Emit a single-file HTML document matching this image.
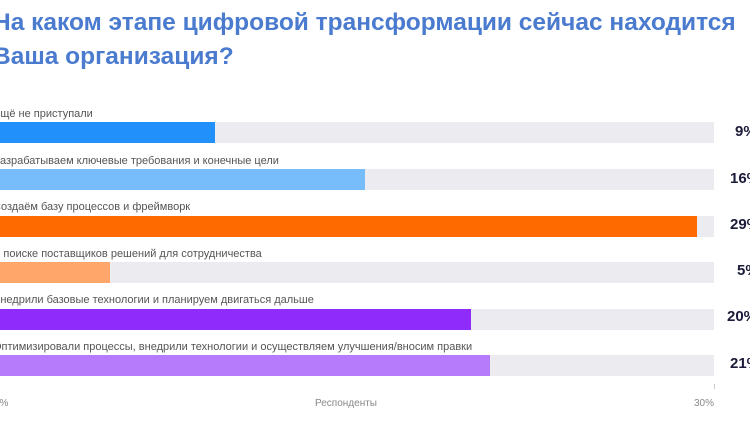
<!DOCTYPE html>
<html><head><meta charset="utf-8"><style>
body{margin:0;width:750px;height:430px;overflow:hidden;background:#fff;font-family:"Liberation Sans","DejaVu Sans",sans-serif;position:relative}
.t{position:absolute;left:-7px;top:6px;color:#4a7bcf;font-weight:bold;font-size:24.5px;line-height:34px;white-space:nowrap}
.l{position:absolute;left:-7px;font-size:11px;color:#555;white-space:nowrap}
.tr{position:absolute;left:0;width:714px;height:21px;background:#ebebf0}
.b{position:absolute;left:0;height:21px}
.p{position:absolute;left:730px;font-weight:bold;font-size:15px;color:#1b1b3a;white-space:nowrap}
.a{position:absolute;top:398px;font-size:10px;color:#888}
</style></head><body>
<div class="t">На каком этапе цифровой трансформации сейчас находится<br>Ваша организация?</div>

<div class="l" style="top:108px">Ещё не приступали</div>
<div class="tr" style="top:122px"></div><div class="b" style="top:122px;width:215px;background:#2190fb"></div>
<div class="p" style="top:123px;left:735px">9%</div>

<div class="l" style="top:155px">Разрабатываем ключевые требования и конечные цели</div>
<div class="tr" style="top:169px"></div><div class="b" style="top:169px;width:365px;background:#77bcfb"></div>
<div class="p" style="top:170px">16%</div>

<div class="l" style="top:201px">Создаём базу процессов и фреймворк</div>
<div class="tr" style="top:216px"></div><div class="b" style="top:216px;width:697px;background:#ff6a00"></div>
<div class="p" style="top:216px">29%</div>

<div class="l" style="top:248px">В поиске поставщиков решений для сотрудничества</div>
<div class="tr" style="top:262px"></div><div class="b" style="top:262px;width:110px;background:#ffa76a"></div>
<div class="p" style="top:262px;left:737px">5%</div>

<div class="l" style="top:294px">Внедрили базовые технологии и планируем двигаться дальше</div>
<div class="tr" style="top:309px"></div><div class="b" style="top:309px;width:471px;background:#8f2bfb"></div>
<div class="p" style="top:308px;left:727px">20%</div>

<div class="l" style="top:341px">Оптимизировали процессы, внедрили технологии и осуществляем улучшения/вносим правки</div>
<div class="tr" style="top:355px"></div><div class="b" style="top:355px;width:490px;background:#b67bfb"></div>
<div class="p" style="top:355px">21%</div>

<div style="position:absolute;left:714px;top:384px;width:1px;height:5px;background:#ccc"></div>
<div class="a" style="left:-6px">0%</div>
<div class="a" style="left:315px">Респонденты</div>
<div class="a" style="left:694px">30%</div>
</body></html>
